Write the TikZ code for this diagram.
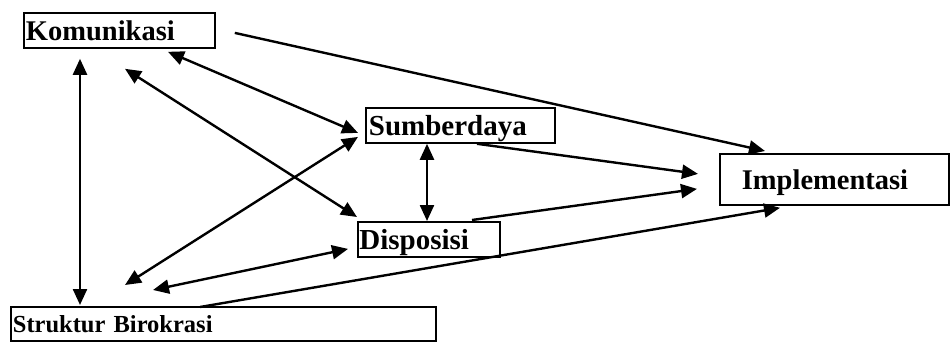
\documentclass[tikz,border=0pt]{standalone}
\usepackage{fontspec}
\setmainfont{Liberation Serif}
\usetikzlibrary{arrows.meta,calc}
\begin{document}
\begin{tikzpicture}[x=1pt,y=-1pt,
  box/.style={draw, line width=1.8pt, rectangle, inner ysep=0pt, text depth=0pt,
    anchor=north west, align=left, font=\bfseries},
  link/.style={line width=2.4pt},
  both/.style={link, {Triangle[length=16pt,width=14pt]}-{Triangle[length=16pt,width=14pt]}},
  one/.style={link, -{Triangle[length=16pt,width=14pt]}}]
\useasboundingbox (0,0) rectangle (951,342);
\node[box, minimum height=35pt, inner xsep=2pt, text width=187pt,
  font=\bfseries\fontsize{28.5}{30}\selectfont] (kom) at (23,12) {Komunikasi};
\node[box, minimum height=35pt, inner xsep=3pt, text width=183pt,
  font=\bfseries\fontsize{29}{30}\selectfont] (sum) at (365,107) {Sumberdaya};
\node[box, minimum height=35pt, inner xsep=1.5pt, text width=139pt,
  font=\bfseries\fontsize{29}{30}\selectfont] (dis) at (357,221) {Disposisi};
\node[box, minimum height=51pt, inner xsep=22pt, text width=185pt,
  font=\bfseries\fontsize{28.5}{30}\selectfont] (imp) at (719,153) {Implementasi};
\node[box, minimum height=34pt, inner xsep=2pt, text width=421pt,
  font=\bfseries\fontsize{24.5}{26}\selectfont] (str) at (10,306) {Struktur Birokrasi};
% connectors
\draw[both] ($(kom.south west)+(57,10)$) -- ($(str.north west)+(70,-1)$);
\draw[one]  ($(kom.east)+(19,2.5)$) -- ($(imp.north west)+(46,-2)$);
\draw[both] ($(kom.south west)+(145,3)$) -- ($(sum.west)+(-7,7.5)$);
\draw[both] ($(kom.south west)+(102,20)$) -- ($(dis.north west)+(0,-4)$);
\draw[both] ($(str.north west)+(115,-21)$) -- ($(sum.west)+(-7,11.5)$);
\draw[both] ($(str.north west)+(143,-16)$) -- ($(dis.west)+(-9,9.5)$);
\draw[one]  ($(str.north west)+(190,1)$) -- ($(imp.south west)+(61,2)$);
\draw[both] ($(sum.south west)+(62,0)$) -- ($(dis.north west)+(70,0)$);
\draw[one]  ($(sum.south west)+(112,0)$) -- ($(imp.west)+(-21,-5.5)$);
\draw[one]  ($(dis.north west)+(115,-1)$) -- ($(imp.west)+(-22,9.5)$);
\end{tikzpicture}
\end{document}
